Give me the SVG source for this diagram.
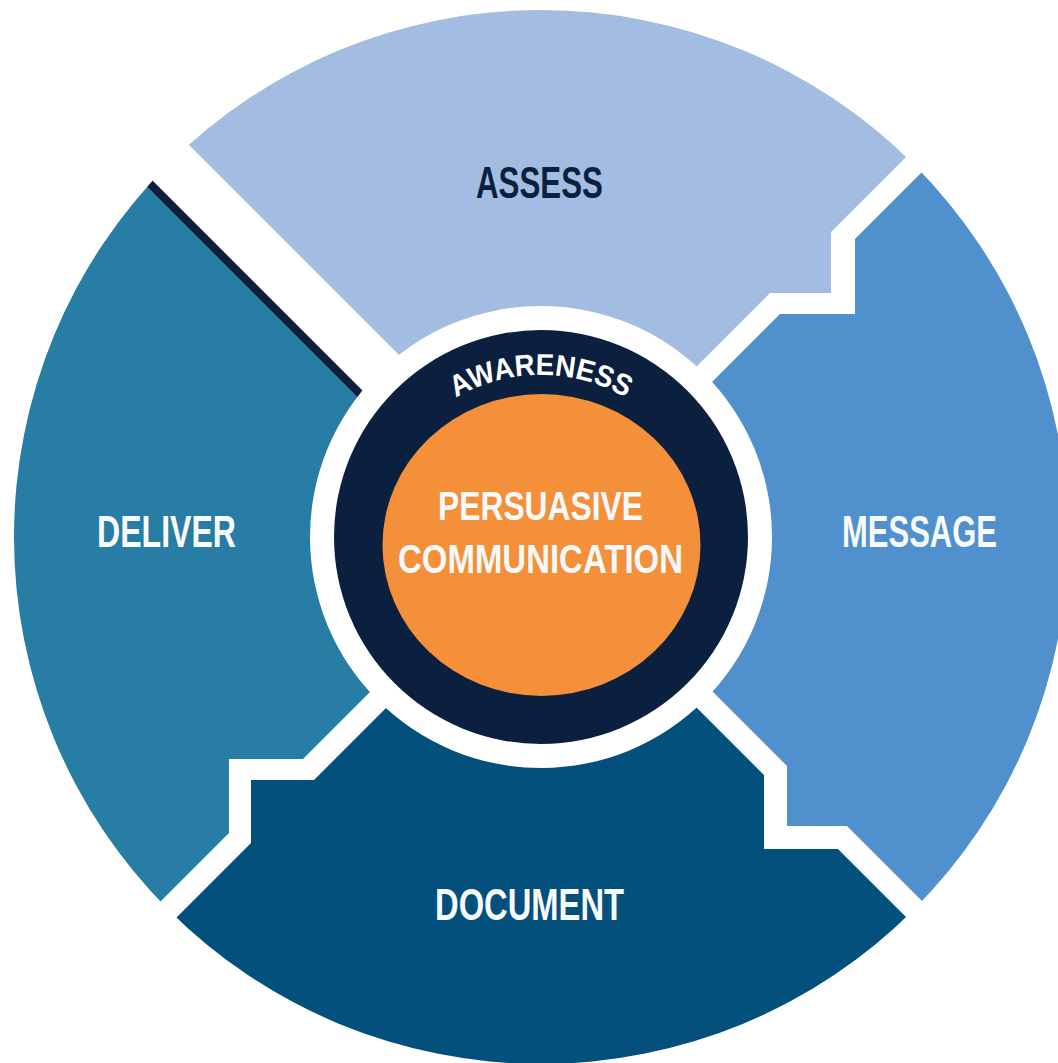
<svg xmlns="http://www.w3.org/2000/svg" width="1058" height="1063" viewBox="0 0 1058 1063">
  <style>
    .lbl { font-family: "Liberation Sans Narrow", "Liberation Sans", "DejaVu Sans Condensed", sans-serif; font-weight: bold; font-size: 44px; text-anchor: middle; }
    .white { fill: #F7F9FB; }
    .dark { fill: #0B1F3F; }
    .mid { font-size: 41px; }
    .aw { font-family: "Liberation Sans Narrow", "Liberation Sans", "DejaVu Sans Condensed", sans-serif; font-weight: bold; font-size: 30px; fill: #FFFFFF; }
  </style>
  <defs>
    <clipPath id="ring">
      <path clip-rule="evenodd" d="M14,537 a527,527 0 1,0 1054,0 a527,527 0 1,0 -1054,0 Z M310,537 a231,231 0 1,0 462,0 a231,231 0 1,0 -462,0 Z"/>
    </clipPath>
    <path id="awArc" d="M410.8,435.7 A170,170 0 0,1 671.2,435.7"/>
  </defs>
  <rect x="0" y="0" width="1058" height="1063" fill="#FFFFFF"/>

  <g id="assess">
    <path clip-path="url(#ring)" fill="#A3BDE2" d="M39,-5 L553.5,509.5 L770,293 L831,293 L831,232 L1100,-37 L1100,-120 L39,-120 Z"/>
    <text class="lbl dark" x="539.5" y="198" textLength="127" lengthAdjust="spacingAndGlyphs">ASSESS</text>
  </g>

  <g id="message">
    <path clip-path="url(#ring)" fill="#5091CD" d="M557.5,536.5 L780,314 L855,314 L855,239 L1170,-76 L1200,-76 L1200,1179 L847,826 L787,826 L787,766 Z"/>
    <text class="lbl white" x="919.5" y="547" textLength="155" lengthAdjust="spacingAndGlyphs">MESSAGE</text>
  </g>

  <g id="document">
    <path clip-path="url(#ring)" fill="#03507D" d="M541.5,552.5 L764,775 L764,849 L838,849 L1200,1211 L1200,1300 L-200,1300 L-200,1294 L251,843 L251,780 L314,780 Z"/>
    <text class="lbl white" x="529.5" y="920" textLength="189" lengthAdjust="spacingAndGlyphs">DOCUMENT</text>
  </g>

  <g id="deliver">
    <path clip-path="url(#ring)" fill="#277DA4" d="M511,551 L303,759 L229,759 L229,833 L-130,1192 L-130,-90 Z"/>
    <path clip-path="url(#ring)" fill="#0B1F3F" d="M-130,-90 L-118,-90 L530,558 L518,558 Z"/>
    <text class="lbl white" x="166.5" y="547" textLength="139" lengthAdjust="spacingAndGlyphs">DELIVER</text>
  </g>

  <g id="center">
    <circle cx="541" cy="537" r="207" fill="#0B1F3F"/>
    <ellipse cx="541.5" cy="545" rx="159" ry="151" fill="#F39039"/>
    <text class="aw"><textPath href="#awArc" startOffset="50%" text-anchor="middle" textLength="178" lengthAdjust="spacingAndGlyphs">AWARENESS</textPath></text>
    <text class="lbl white mid" x="540.5" y="520" textLength="205" lengthAdjust="spacingAndGlyphs">PERSUASIVE</text>
    <text class="lbl white mid" x="540.5" y="573" textLength="285" lengthAdjust="spacingAndGlyphs">COMMUNICATION</text>
  </g>

  <g id="connectors"/>
</svg>
